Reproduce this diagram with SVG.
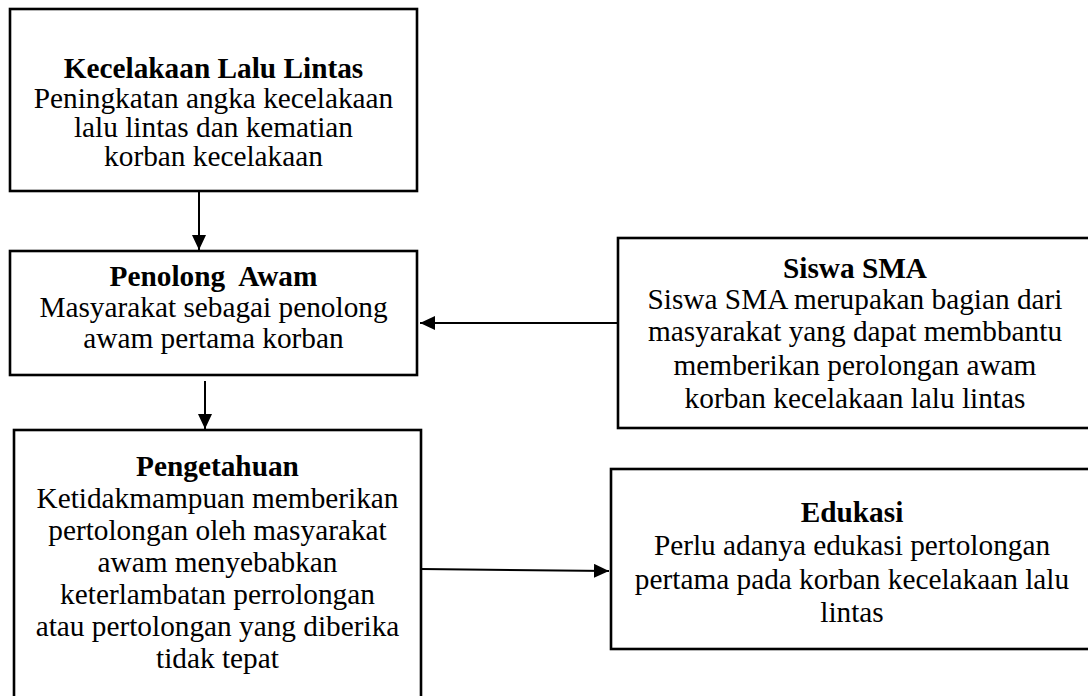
<svg xmlns="http://www.w3.org/2000/svg" width="1088" height="696" viewBox="0 0 1088 696">
<defs>
<style>
.box{fill:#fff;stroke:#000;stroke-width:2.6}
.t{font-family:"Liberation Serif","Times New Roman",serif;font-size:29.3px;fill:#000;text-anchor:middle}
.b{font-weight:bold}
.c{stroke:#000;stroke-width:2;fill:none}
</style>
<marker id="ah" markerUnits="userSpaceOnUse" markerWidth="16" markerHeight="16" refX="15" refY="7" orient="auto">
<path d="M0,0 L15,7 L0,14 Z" fill="#000"/>
</marker>
</defs>
<rect width="1088" height="696" fill="#fff"/>
<g id="kecelakaan">
<rect class="box" x="10" y="9" width="407" height="182"/>
<text class="t b" x="213.5" y="78">Kecelakaan Lalu Lintas</text>
<text class="t" x="213.5" y="108">Peningkatan angka kecelakaan</text>
<text class="t" x="213.5" y="137">lalu lintas dan kematian</text>
<text class="t" x="213.5" y="166">korban kecelakaan</text>
</g>
<g id="penolong">
<rect class="box" x="10" y="251" width="407" height="124"/>
<text class="t b" x="213.5" y="286" xml:space="preserve">Penolong  Awam</text>
<text class="t" x="213.5" y="317">Masyarakat sebagai penolong</text>
<text class="t" x="213.5" y="348">awam pertama korban</text>
</g>
<g id="pengetahuan">
<rect class="box" x="14" y="430" width="407" height="280"/>
<text class="t b" x="217.5" y="476">Pengetahuan</text>
<text class="t" x="217.5" y="508">Ketidakmampuan memberikan</text>
<text class="t" x="217.5" y="540">pertolongan oleh masyarakat</text>
<text class="t" x="217.5" y="572">awam menyebabkan</text>
<text class="t" x="217.5" y="604">keterlambatan perrolongan</text>
<text class="t" x="217.5" y="636">atau pertolongan yang diberika</text>
<text class="t" x="217.5" y="668">tidak tepat</text>
</g>
<g id="siswa">
<rect class="box" x="618" y="238" width="480" height="190"/>
<text class="t b" x="855" y="278">Siswa SMA</text>
<text class="t" x="855" y="309">Siswa SMA merupakan bagian dari</text>
<text class="t" x="855" y="341">masyarakat yang dapat membbantu</text>
<text class="t" x="855" y="375">memberikan perolongan awam</text>
<text class="t" x="855" y="408">korban kecelakaan lalu lintas</text>
</g>
<g id="edukasi">
<rect class="box" x="611" y="469" width="487" height="180"/>
<text class="t b" x="852" y="522">Edukasi</text>
<text class="t" x="852" y="555">Perlu adanya edukasi pertolongan</text>
<text class="t" x="852" y="589">pertama pada korban kecelakaan lalu</text>
<text class="t" x="852" y="622">lintas</text>
</g>
<g id="connectors">
<line class="c" x1="199" y1="192" x2="199" y2="250" marker-end="url(#ah)"/>
<line class="c" x1="205" y1="381" x2="205" y2="429" marker-end="url(#ah)"/>
<line class="c" x1="618" y1="323" x2="420" y2="323" marker-end="url(#ah)"/>
<line class="c" x1="421" y1="569" x2="609" y2="571" marker-end="url(#ah)"/>
</g>
</svg>
